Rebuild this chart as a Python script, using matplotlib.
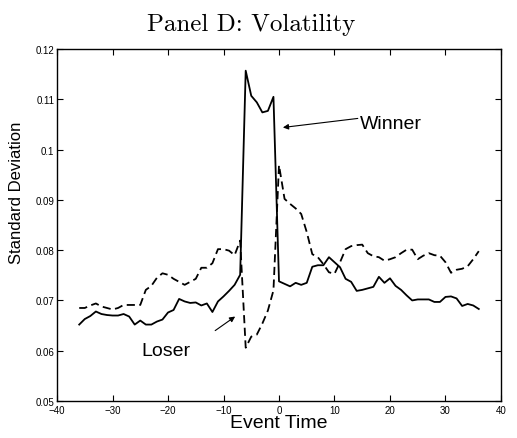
import matplotlib
matplotlib.use('Agg')
import matplotlib.pyplot as plt
import numpy as np

plt.rcParams['font.family'] = ['Liberation Sans', 'DejaVu Sans']

# event time
event_time = list(range(-36, 37))

# standard deviation, winner portfolio (solid)
winner = [0.0652, 0.0663, 0.0669, 0.0678, 0.0673, 0.0671, 0.0670, 0.0670, 0.0673, 0.0668,
          0.0652, 0.0660, 0.0652, 0.0652, 0.0658, 0.0662, 0.0676, 0.0681, 0.0703, 0.0698,
          0.0695, 0.0696, 0.0690, 0.0694, 0.0677, 0.0698, 0.0708, 0.0719, 0.0731, 0.0751,
          0.1157, 0.1107, 0.1094, 0.1074, 0.1077, 0.1105,
          0.0738, 0.0733, 0.0728, 0.0735, 0.0731, 0.0735, 0.0767, 0.0770, 0.0770, 0.0786,
          0.0776, 0.0766, 0.0743, 0.0737, 0.0719, 0.0721, 0.0724, 0.0727, 0.0747, 0.0735,
          0.0744, 0.0729, 0.0721, 0.0710, 0.0700, 0.0702, 0.0702, 0.0702, 0.0697, 0.0697,
          0.0707, 0.0708, 0.0704, 0.0689, 0.0693, 0.0690, 0.0683]

# standard deviation, loser portfolio (dashed)
loser = [0.0685, 0.0685, 0.0690, 0.0694, 0.0688, 0.0685, 0.0682, 0.0685, 0.0691, 0.0691,
         0.0691, 0.0691, 0.0721, 0.0729, 0.0745, 0.0754, 0.0751, 0.0743, 0.0737, 0.0731,
         0.0737, 0.0743, 0.0765, 0.0765, 0.0774, 0.0802, 0.0802, 0.0799, 0.0790, 0.0819,
         0.0606, 0.0628, 0.0632, 0.0654, 0.0680, 0.0720,
         0.0969, 0.0902, 0.0892, 0.0883, 0.0872, 0.0836, 0.0792, 0.0786, 0.0772, 0.0756,
         0.0753, 0.0776, 0.0802, 0.0808, 0.0810, 0.0811, 0.0794, 0.0788, 0.0786, 0.0779,
         0.0782, 0.0786, 0.0794, 0.0801, 0.0801, 0.0782, 0.0789, 0.0794, 0.0790, 0.0789,
         0.0776, 0.0755, 0.0761, 0.0763, 0.0768, 0.0782, 0.0798]

fig = plt.figure(figsize=(5.17, 4.39), dpi=100)
ax = fig.add_axes([0.1103, 0.0843, 0.8587, 0.8017])

ax.plot(event_time, winner, color='black', linewidth=1.3)
ax.plot(event_time, loser, color='black', linewidth=1.3, linestyle=(0, (4.5, 2.5)))

ax.set_xlim(-40, 40)
ax.set_ylim(0.05, 0.12)
ax.set_xticks(np.arange(-40, 41, 10))
ax.set_yticks([0.05, 0.06, 0.07, 0.08, 0.09, 0.1, 0.11, 0.12])
ax.set_yticklabels(['0.05', '0.06', '0.07', '0.08', '0.09', '0.1', '0.11', '0.12'])
ax.set_xticklabels(['\u221240', '\u221230', '\u221220', '\u221210', '0', '10', '20', '30', '40'])
ax.tick_params(direction='in', top=True, right=True, length=4, width=0.8, labelsize=7, pad=2)
ax.tick_params(axis='x', pad=3)
for s in ax.spines.values():
    s.set_linewidth(1.0)

ax.set_xlabel('Event Time', fontsize=14, labelpad=-1)
ax.set_ylabel('Standard Deviation', fontsize=12)
ax.yaxis.set_label_coords(-0.074, 0.595)

arrow = dict(arrowstyle='-|>', color='black', lw=0.8, mutation_scale=8, shrinkA=0, shrinkB=0)
ax.annotate('', xy=(0.7, 0.1044), xytext=(14.2, 0.1062), arrowprops=arrow)
ax.text(14.6, 0.1052, 'Winner', fontsize=14, va='center', ha='left')
ax.annotate('', xy=(-7.9, 0.0668), xytext=(-11.5, 0.0640), arrowprops=arrow)
ax.text(-20.4, 0.0600, 'Loser', fontsize=14, va='center', ha='center')

fig.text(0.4865, 0.943, 'Panel D: Volatility', fontsize=18, ha='center', va='center',
         family='cmr10')

fig.savefig('out.png', dpi=100)
